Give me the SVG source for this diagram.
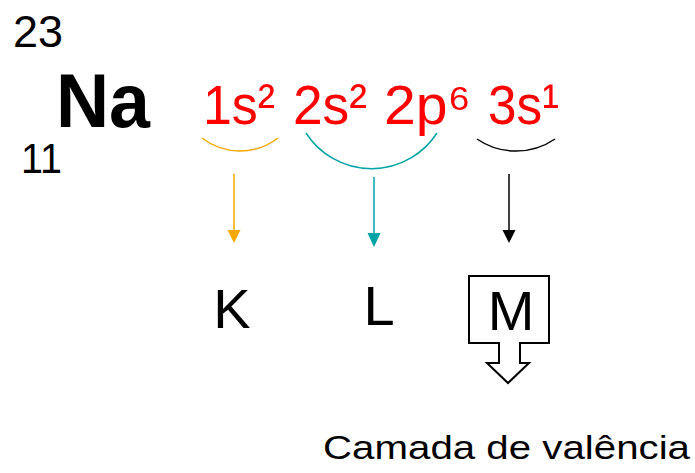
<svg xmlns="http://www.w3.org/2000/svg" width="695" height="473" viewBox="0 0 695 473">
<style>
text{font-family:"Liberation Sans",Arial,"DejaVu Sans",sans-serif;fill:#000}
.red{fill:#ff0000;font-size:56px}
.lvl{font-size:56px;text-anchor:middle}
.arc{fill:none;stroke-width:1.5}
.ln{stroke-width:1.5}
</style>
<rect width="695" height="473" fill="#fff"/>
<g id="element">
<text x="13" y="47" font-size="44" textLength="50" lengthAdjust="spacingAndGlyphs">23</text>
<text x="56" y="127" font-size="76" font-weight="bold" textLength="94" lengthAdjust="spacingAndGlyphs">Na</text>
<text x="21" y="173" font-size="43" textLength="41" lengthAdjust="spacingAndGlyphs">11</text>
</g>
<g id="config">
<text class="red" x="203" y="124" textLength="72" lengthAdjust="spacingAndGlyphs">1s²</text>
<text class="red" x="293" y="124" textLength="74" lengthAdjust="spacingAndGlyphs">2s²</text>
<text class="red" x="384" y="124" textLength="87" lengthAdjust="spacingAndGlyphs">2p⁶</text>
<text class="red" x="488" y="124" textLength="71" lengthAdjust="spacingAndGlyphs">3s¹</text>
</g>
<g id="connectors">
<path class="arc" stroke="#f5a800" d="M202,138 A62,62 0 0 0 278,138"/>
<path class="arc" stroke="#00a3a8" d="M306,133 A78,78 0 0 0 437,133"/>
<path class="arc" stroke="#000" d="M477,139 A69,69 0 0 0 555,139"/>
<line class="ln" stroke="#f5a800" x1="234" y1="174" x2="234" y2="232"/>
<polygon fill="#f5a800" points="227.5,230 240.5,230 234,243"/>
<line class="ln" stroke="#00a3a8" x1="374" y1="177" x2="374" y2="235"/>
<polygon fill="#00a3a8" points="367.5,233 380.5,233 374,247"/>
<line class="ln" stroke="#000" x1="509" y1="174" x2="509" y2="232"/>
<polygon fill="#000" points="502.5,230 515.5,230 509,243"/>
</g>
<g id="K"><text class="lvl" x="232" y="328">K</text></g>
<g id="L"><text class="lvl" x="379" y="325">L</text></g>
<g id="M">
<path d="M469,276 H549 V343 H520 V363 H529 L508,383 L487,363 H499 V343 H469 Z" fill="none" stroke="#000" stroke-width="2"/>
<text class="lvl" x="511" y="330">M</text>
</g>
<g id="label">
<text x="323" y="459" font-size="34" textLength="367" lengthAdjust="spacingAndGlyphs">Camada de valência</text>
</g>
</svg>
